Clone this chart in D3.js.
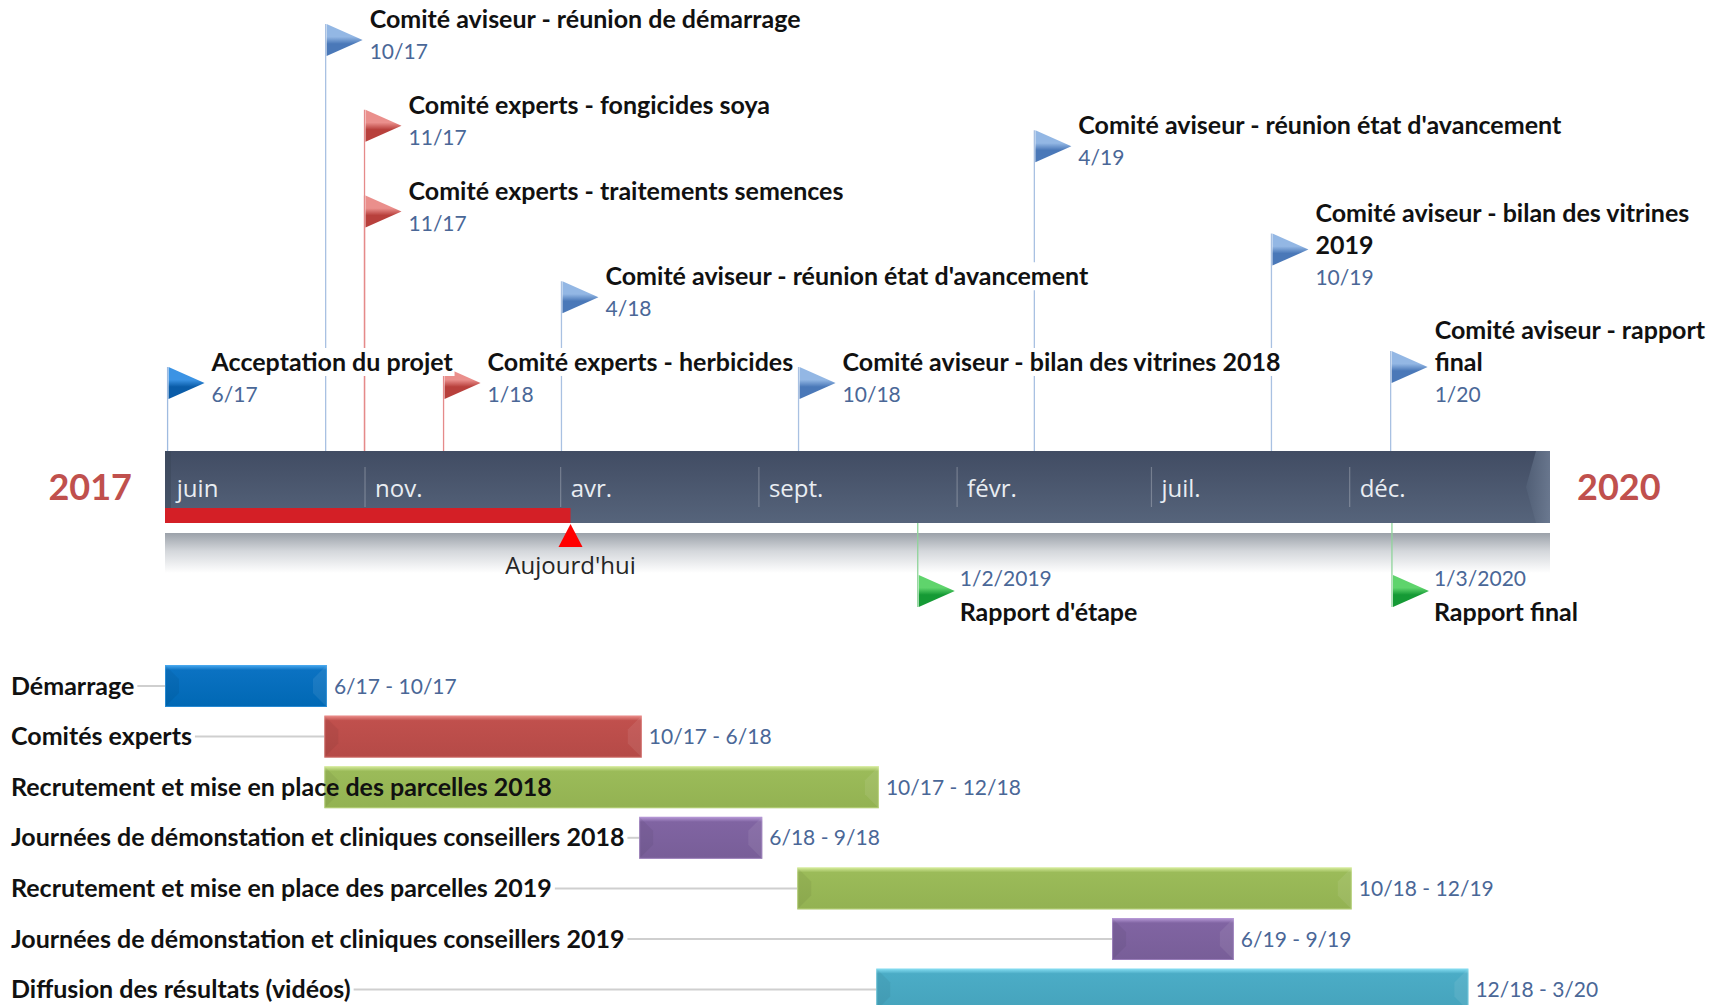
<!DOCTYPE html>
<html><head><meta charset="utf-8">
<script src="https://cdn.jsdelivr.net/npm/d3@7"></script>
<style>body{margin:0;background:#fff;} svg{display:block;}</style>
</head><body><svg id="chart" width="1726" height="1005"></svg>
<script>
// ---------------- data ----------------
const timelineStart = "2017-05-31";
const timelineEnd = "2020-05-04";
const todayDate = "2018-04-09";
const todayLabel = "Aujourd'hui";
const yearStartLabel = "2017";
const yearEndLabel = "2020";

const tickDates = ["2017-06-01","2017-11-01","2018-04-01","2018-09-01","2019-02-01","2019-07-01","2019-12-01"];
const tickLabels = ["juin","nov.","avr.","sept.","févr.","juil.","déc."];

const milestoneTitles = [
  "Acceptation du projet",
  "Comité aviseur - réunion de démarrage",
  "Comité experts - fongicides soya",
  "Comité experts - traitements semences",
  "Comité experts - herbicides",
  "Comité aviseur - réunion état d'avancement",
  "Comité aviseur - bilan des vitrines 2018",
  "Comité aviseur - réunion état d'avancement",
  "Comité aviseur - bilan des vitrines\n2019",
  "Comité aviseur - rapport\nfinal"
];
const milestoneLabels = ["6/17","10/17","11/17","11/17","1/18","4/18","10/18","4/19","10/19","1/20"];
const milestoneDates = ["2017-06-02","2017-10-02","2017-11-01","2017-11-01","2018-01-01","2018-04-02","2018-10-02","2019-04-02","2019-10-02","2020-01-02"];
const milestoneKinds = ["start","aviseur","experts","experts","experts","aviseur","aviseur","aviseur","aviseur","aviseur"];
const milestoneLevels = [0,4,3,2,0,1,0,2.76,1.37,0];

const reportTitles = ["Rapport d'étape","Rapport final"];
const reportLabels = ["1/2/2019","1/3/2020"];
const reportDates = ["2019-01-02","2020-01-03"];

const taskNames = [
  "Démarrage",
  "Comités experts",
  "Recrutement et mise en place des parcelles 2018",
  "Journées de démonstation et cliniques conseillers 2018",
  "Recrutement et mise en place des parcelles 2019",
  "Journées de démonstation et cliniques conseillers 2019",
  "Diffusion des résultats (vidéos)"
];
const taskStarts = ["2017-05-31","2017-10-01","2017-10-01","2018-06-01","2018-10-01","2019-06-01","2018-12-01"];
const taskEnds   = ["2017-10-03","2018-06-03","2018-12-03","2018-09-04","2019-12-03","2019-09-03","2020-03-02"];
const taskLabels = ["6/17 - 10/17","10/17 - 6/18","10/17 - 12/18","6/18 - 9/18","10/18 - 12/19","6/19 - 9/19","12/18 - 3/20"];
const taskKinds  = ["start","experts","parcelles","journees","parcelles","journees","diffusion"];

// ---------------- styles ----------------
const flagColors = {
  start:   {light:"#3b93e4", dark:"#0a5ca8", line:"#9fbbe0"},
  aviseur: {light:"#93b7e4", dark:"#4a78b8", line:"#a9c1e2"},
  experts: {light:"#ea8f8c", dark:"#b8403c", line:"#e58a8a"},
  report:  {light:"#5fd46c", dark:"#159a35", line:"#8fd49a"}
};
const taskColors = {
  start:     {light:"#4aaaf0", base:"#0b72c2", dark:"#0068b4"},
  experts:   {light:"#ec8d8a", base:"#c0504d", dark:"#b54a47"},
  parcelles: {light:"#d6ec9c", base:"#9bbb59", dark:"#93b252"},
  journees:  {light:"#b89ad8", base:"#8064a2", dark:"#785e98"},
  diffusion: {light:"#86def2", base:"#4bacc6", dark:"#45a3bc"}
};
const titleFont = "Lato, 'Open Sans', sans-serif";
const uiFont = "'Open Sans', 'Noto Sans', sans-serif";

// ---------------- chart ----------------
const svg = d3.select("#chart");
const defs = svg.append("defs");
const parse = d3.timeParse("%Y-%m-%d");

const barLeft = 165, barRight = 1550, barTop = 451, barBottom = 523;
const x = d3.scaleTime().domain([parse(timelineStart), parse(timelineEnd)]).range([barLeft, barRight]);

function vgrad(id, stops){
  const g = defs.append("linearGradient").attr("id", id)
    .attr("x1",0).attr("y1",0).attr("x2",0).attr("y2",1);
  stops.forEach(s => g.append("stop").attr("offset", s[0]).attr("stop-color", s[1])
    .attr("stop-opacity", s[2] == null ? 1 : s[2]));
}
vgrad("barGrad", [[0,"#414c63"],[1,"#56647b"]]);
vgrad("reflGrad", [[0,"#9ba1a9"],[0.45,"#d4d7db"],[1,"#ffffff"]]);
const hg = defs.append("linearGradient").attr("id","tipGrad").attr("x1",0).attr("x2",1).attr("y1",0).attr("y2",0);
hg.append("stop").attr("offset",0).attr("stop-color","#526077");
hg.append("stop").attr("offset",1).attr("stop-color","#6e7c93");
Object.entries(flagColors).forEach(([k,c]) => vgrad("flag-"+k, [[0,c.light],[0.4,c.light],[0.62,c.dark],[1,c.dark]]));
Object.entries(taskColors).forEach(([k,c]) => vgrad("task-"+k, [[0,c.light],[0.12,c.base],[1,c.dark]]));

// reflection under the bar
svg.append("rect").attr("x", barLeft).attr("y", 533).attr("width", barRight - barLeft).attr("height", 40)
  .attr("fill", "url(#reflGrad)");

// ---- top milestones ----
const levelY = d3.scaleLinear().domain([0,4]).range([402,59]);
const milestones = milestoneTitles.map((t,i) => {
  const lines = t.split("\n");
  const dateY = levelY(milestoneLevels[i]);
  return {lines, label: milestoneLabels[i], kind: milestoneKinds[i], x: x(parse(milestoneDates[i])),
          dateY, flagTop: dateY - 35 - 16*(lines.length-1)};
});
const mLines = svg.append("g");
const mFlags = svg.append("g");
const mTexts = svg.append("g");
milestones.forEach(m => {
  mLines.append("line").attr("x1", m.x).attr("x2", m.x).attr("y1", m.flagTop).attr("y2", barTop)
    .attr("stroke", flagColors[m.kind].line).attr("stroke-width", 1.3);
  mFlags.append("path")
    .attr("d", `M${m.x+1},${m.flagTop} L${m.x+37},${m.flagTop+16} L${m.x+1},${m.flagTop+32} Z`)
    .attr("fill", `url(#flag-${m.kind})`);
  const g = mTexts.append("g");
  const n = m.lines.length;
  m.lines.forEach((ln, j) => {
    g.append("text").attr("class","bgtext").attr("x", m.x + 44).attr("y", m.dateY - 31 - 32*(n - 1 - j))
      .attr("font-family", titleFont).attr("font-weight", 700).attr("font-size", 25)
      .attr("fill", "#111").text(ln);
  });
  g.append("text").attr("class","bgtext").attr("x", m.x + 44).attr("y", m.dateY)
    .attr("font-family", titleFont).attr("font-size", 21).attr("fill", "#4a6797").text(m.label);
});
// white boxes behind milestone text
mTexts.selectAll("text.bgtext").each(function(){
  const b = this.getBBox();
  d3.select(this.parentNode).insert("rect", () => this)
    .attr("x", b.x - 1).attr("y", b.y + 2).attr("width", b.width + 2).attr("height", b.height - 2)
    .attr("fill", "#fff");
});

// ---- timeline bar ----
svg.append("rect").attr("x", barLeft).attr("y", barTop).attr("width", barRight - barLeft)
  .attr("height", barBottom - barTop).attr("fill", "url(#barGrad)");
svg.append("path")
  .attr("d", `M${barRight-14},${barTop} L${barRight-24},${(barTop+barBottom)/2} L${barRight-14},${barBottom} L${barRight},${barBottom} L${barRight},${barTop} Z`)
  .attr("fill", "url(#tipGrad)").attr("opacity", 0.85);
svg.append("rect").attr("x", barLeft).attr("y", barTop).attr("width", 6).attr("height", barBottom - barTop)
  .attr("fill", "#3a4558").attr("opacity", 0.5);

const axis = d3.axisBottom(x).tickValues(tickDates.map(parse))
  .tickFormat((d,i) => tickLabels[i]).tickSize(40).tickPadding(0);
const ag = svg.append("g").attr("transform", "translate(0,467)").call(axis);
ag.select(".domain").remove();
ag.attr("font-family", uiFont).attr("font-size", 24);
ag.selectAll(".tick line").attr("stroke", "rgba(255,255,255,0.25)").attr("stroke-width", 1.2)
  .attr("opacity", (d,i) => i === 0 ? 0 : 1);
ag.selectAll(".tick text").attr("text-anchor", "start").attr("x", 10).attr("y", 30).attr("dy", null)
  .attr("fill", "#e9edf2");

// progress to today
const xToday = x(parse(todayDate));
svg.append("rect").attr("x", barLeft).attr("y", 508).attr("width", xToday - barLeft).attr("height", 15)
  .attr("fill", "#d41f26");
svg.append("path").attr("d", `M${xToday},524 L${xToday+12},547 L${xToday-12},547 Z`).attr("fill", "#ff0000");
svg.append("text").attr("x", xToday).attr("y", 574).attr("text-anchor", "middle")
  .attr("font-family", uiFont).attr("font-size", 24).attr("fill", "#262626").text(todayLabel);

// years
svg.append("text").attr("x", 132).attr("y", 500).attr("text-anchor", "end")
  .attr("font-family", titleFont).attr("font-weight", 700).attr("font-size", 36).attr("fill", "#c0504d")
  .text(yearStartLabel);
svg.append("text").attr("x", 1577).attr("y", 500).attr("text-anchor", "start")
  .attr("font-family", titleFont).attr("font-weight", 700).attr("font-size", 36).attr("fill", "#c0504d")
  .text(yearEndLabel);

// ---- bottom reports ----
reportTitles.forEach((t,i) => {
  const rx = x(parse(reportDates[i]));
  svg.append("line").attr("x1", rx).attr("x2", rx).attr("y1", barBottom).attr("y2", 607)
    .attr("stroke", flagColors.report.line).attr("stroke-width", 1.3);
  svg.append("path").attr("d", `M${rx+1},575 L${rx+37},591 L${rx+1},607 Z`).attr("fill", "url(#flag-report)");
  svg.append("text").attr("x", rx + 42).attr("y", 586).attr("font-family", titleFont).attr("font-size", 21)
    .attr("fill", "#4a6797").text(reportLabels[i]);
  svg.append("text").attr("x", rx + 42).attr("y", 621).attr("font-family", titleFont).attr("font-weight", 700)
    .attr("font-size", 25).attr("fill", "#111").text(t);
});

// ---- gantt rows ----
const y = d3.scalePoint().domain(taskNames).range([686, 686 + 6*50.6]);
const barH = 42, bev = 14;
const gRows = svg.append("g");
taskNames.forEach((name, i) => {
  const cy = y(name);
  const x0 = x(parse(taskStarts[i])), x1 = x(parse(taskEnds[i]));
  const c = taskColors[taskKinds[i]];
  const row = gRows.append("g");
  const conn = row.append("line").attr("y1", cy).attr("y2", cy).attr("stroke", "#cfcfcf").attr("stroke-width", 2);
  const y0 = cy - barH/2, y1 = cy + barH/2;
  row.append("rect").attr("x", x0).attr("y", y0).attr("width", x1 - x0).attr("height", barH)
    .attr("fill", `url(#task-${taskKinds[i]})`);
  row.append("path").attr("d", `M${x0},${y0} L${x0+bev},${y0+bev} L${x0+bev},${y1-bev} L${x0},${y1} Z`)
    .attr("fill", "#000").attr("opacity", 0.05);
  row.append("path").attr("d", `M${x1},${y0} L${x1-bev},${y0+bev} L${x1-bev},${y1-bev} L${x1},${y1} Z`)
    .attr("fill", "#fff").attr("opacity", 0.08);
  row.append("rect").attr("x", x0 + 0.5).attr("y", y0 + 0.5).attr("width", x1 - x0 - 1).attr("height", barH - 1)
    .attr("fill", "none").attr("stroke", c.light).attr("stroke-width", 1).attr("opacity", 0.5);
  const lbl = row.append("text").attr("x", 11).attr("y", cy + 8.5).attr("font-family", titleFont)
    .attr("font-weight", 700).attr("font-size", 25).attr("fill", "#111").text(name);
  const lw = lbl.node().getComputedTextLength();
  if (11 + lw + 3 < x0) conn.attr("x1", 11 + lw + 3).attr("x2", x0);
  else conn.remove();
  row.append("text").attr("x", x1 + 7).attr("y", cy + 7.5).attr("font-family", titleFont)
    .attr("font-size", 21).attr("fill", "#4a6797").text(taskLabels[i]);
});
</script>
</body></html>
